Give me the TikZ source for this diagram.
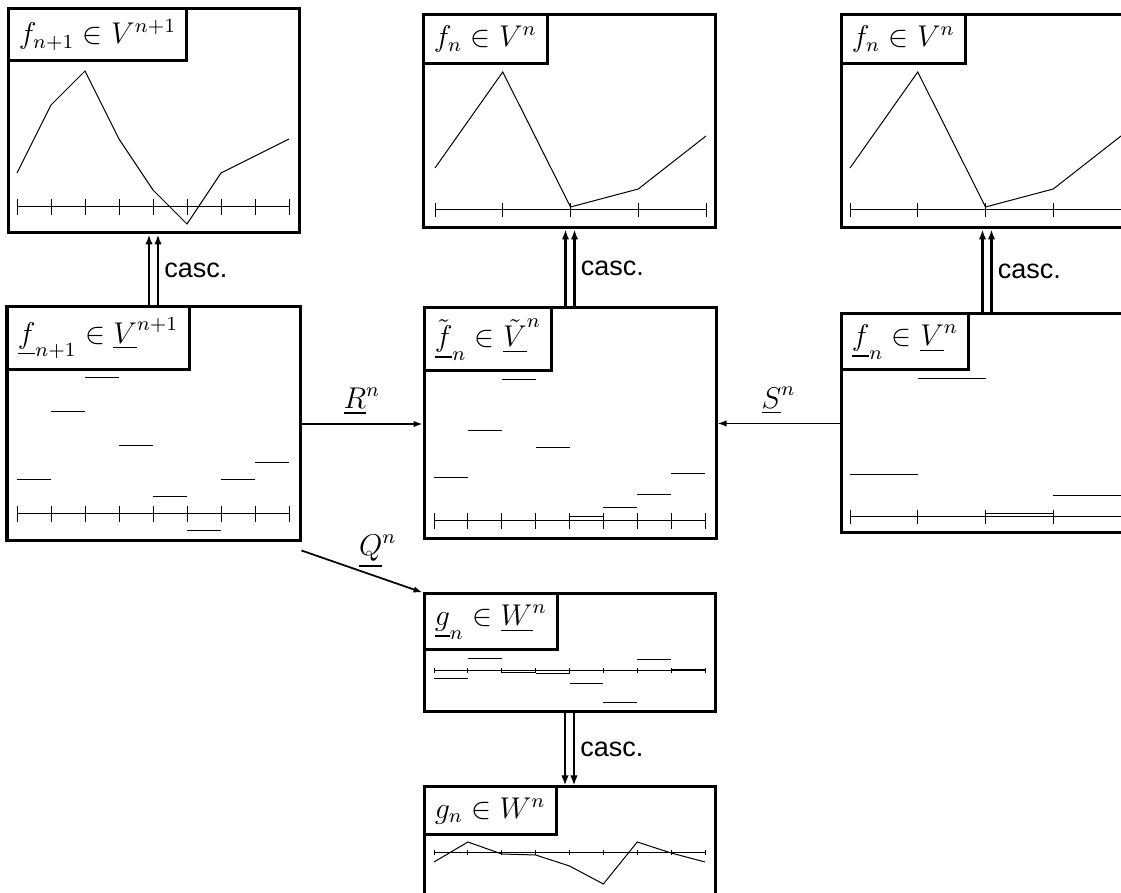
\documentclass[tikz,border=0pt]{standalone}
\usepackage{amsmath}
\usepackage{fontspec}
\newfontfamily\cascfont{Liberation Sans}
\usepackage{tikz}
\usetikzlibrary{arrows.meta, positioning, fit, calc}

\begin{document}
\begin{tikzpicture}[
    x=0.4pt,
    y=0.4pt,
    every node/.style={font=\fontsize{11.6pt}{14pt}\selectfont},
    panel/.style={
        rectangle,
        draw,
        line width=1.2pt,
        inner sep=0pt
    },
    tag/.style={
        rectangle,
        draw,
        line width=1.2pt,
        anchor=north west,
        inner sep=4.3pt
    },
    cascarrow/.style={-{Latex[length=4pt, width=3pt]}, line width=1pt},
    maparrow/.style={-{Latex[length=3.6pt, width=2.6pt]}, line width=0.7pt},
    casclabel/.style={right, inner sep=0pt, xshift=2pt, font=\cascfont\fontsize{10.8pt}{13pt}\selectfont}
]
\path[use as bounding box, clip] (0,0) rectangle (1121,893);

% Panels
\node[panel, fit={(8,660) (299,884)}] (vfine) {};
\node[panel, fit={(423,665) (715,878)}] (vcoarse) {};
\node[panel, fit={(841,665) (1133,878)}] (vcoarseb) {};
\node[panel, fit={(7,352) (300,586)}] (ufine) {};
\node[panel, fit={(424,354) (716,585)}] (utilde) {};
\node[panel, fit={(841,360) (1133,579)}] (ucoarse) {};
\node[panel, fit={(424,181) (715,299)}] (wbar) {};
\node[panel, fit={(424,-12) (715,106)}] (gn) {};

% Tags
\node[tag] (vfinetag) at (vfine.north west) {$f_{n+1}\in V^{n+1}$};
\node[tag] (vcoarsetag) at (vcoarse.north west) {$f_n\in V^n$};
\node[tag] (vcoarsebtag) at (vcoarseb.north west) {$f_n\in V^n$};
\node[tag] (ufinetag) at (ufine.north west) {$\underline{f}_{n+1}\in\underline{V}^{n+1}$};
\node[tag] (utildetag) at (utilde.north west) {$\tilde{\underline{f}}_n\in\tilde{\underline{V}}^n$};
\node[tag] (ucoarsetag) at (ucoarse.north west) {$\underline{f}_n\in\underline{V}^n$};
\node[tag] (wbartag) at (wbar.north west) {$\underline{g}_n\in\underline{W}^n$};
\node[tag] (gntag) at (gn.north west) {$g_n\in W^n$};

% Fine linear function
\begin{scope}[shift={(17,686)}]
\draw (0,0) -- (272,0);
\foreach \k in {0,...,8} \draw (34*\k,-8) -- (34*\k,8);
\draw (0,34) -- (34,102) -- (68,136) -- (102,68) -- (136,17) -- (170,-17) -- (204,34) -- (238,51) -- (272,68);
\end{scope}

% Coarse linear function (twice)
\foreach \sx in {435,850} {
\begin{scope}[shift={(\sx,683)}]
\draw (0,0) -- (271,0);
\foreach \k in {0,...,4} \draw (67.75*\k,-7) -- (67.75*\k,7);
\draw (0,42) -- (67.75,138) -- (135.5,3) -- (203.25,21) -- (271,74);
\end{scope}
}

% Fine piecewise constants
\begin{scope}[shift={(17,379)}]
\draw (0,0) -- (272,0);
\foreach \k in {0,...,8} \draw (34*\k,-8) -- (34*\k,8);
\foreach \v [count=\k from 0] in {34,102,136,68,17,-17,34,51} \draw (34*\k,\v) -- ++(34,0);
\end{scope}

% Restricted piecewise constants
\begin{scope}[shift={(434,372)}]
\draw (0,0) -- (271,0);
\foreach \k in {0,...,8} \draw (33.875*\k,-8) -- (33.875*\k,8);
\foreach \v [count=\k from 0] in {43,90,141,73,4,13,26,47} \draw (33.875*\k,\v) -- ++(33.875,0);
\end{scope}

% Coarse piecewise constants
\begin{scope}[shift={(850,376)}]
\draw (0,0) -- (271,0);
\foreach \k in {0,...,4} \draw (67.75*\k,-7) -- (67.75*\k,7);
\foreach \v [count=\k from 0] in {42,138,3,21} \draw (67.75*\k,\v) -- ++(67.75,0);
\end{scope}

% Details
\begin{scope}[shift={(434,222)}]
\draw (0,0) -- (271,0);
\foreach \k in {0,...,8} \draw (33.875*\k,-2.5) -- (33.875*\k,2.5);
\foreach \v [count=\k from 0] in {-8,12,-2,-3,-13,-32,11,1} \draw (33.875*\k,\v) -- ++(33.875,0);
\end{scope}

\begin{scope}[shift={(434,40)}]
\draw (0,0) -- (271,0);
\foreach \k in {0,...,8} \draw (33.875*\k,-2.5) -- (33.875*\k,2.5);
\draw (0,-9) -- (33.875,11) -- (67.75,-1) -- (101.625,-2) -- (135.5,-13) -- (169.375,-31) -- (203.25,11) -- (237.125,0) -- (271,-9);
\end{scope}

% Cascade arrows
\draw[cascarrow] ($(ufine.north)+(-4.5,0)$) -- ($(ufine.north |- vfine.south)+(-4.5,0)$);
\draw[cascarrow] ($(ufine.north)+(4.5,0)$) -- ($(ufine.north |- vfine.south)+(4.5,0)$) node[casclabel, midway] {casc.};
\draw[cascarrow] ($(utilde.north)+(-4.5,0)$) -- ($(utilde.north |- vcoarse.south)+(-4.5,0)$);
\draw[cascarrow] ($(utilde.north)+(4.5,0)$) -- ($(utilde.north |- vcoarse.south)+(4.5,0)$) node[casclabel, midway] {casc.};
\draw[cascarrow] ($(ucoarse.north)+(-4.5,0)$) -- ($(ucoarse.north |- vcoarseb.south)+(-4.5,0)$);
\draw[cascarrow] ($(ucoarse.north)+(4.5,0)$) -- ($(ucoarse.north |- vcoarseb.south)+(4.5,0)$) node[casclabel, midway] {casc.};
\draw[cascarrow] ($(wbar.south)+(-4.5,0)$) -- ($(wbar.south |- gn.north)+(-4.5,0)$);
\draw[cascarrow] ($(wbar.south)+(4.5,0)$) -- ($(wbar.south |- gn.north)+(4.5,0)$) node[casclabel, midway] {casc.};

% Maps
\draw[maparrow] (ufine.east) -- (ufine.east -| utilde.west) node[midway, above] {$\underline{R}^n$};
\draw[maparrow] (ucoarse.west) -- (ucoarse.west -| utilde.east) node[midway, above] {$\underline{S}^n$};
\draw[maparrow] ($(ufine.south east)+(0,-8)$) -- (wbar.north west) node[pos=0.63, above] {$\underline{Q}^n$};

\end{tikzpicture}
\end{document}
